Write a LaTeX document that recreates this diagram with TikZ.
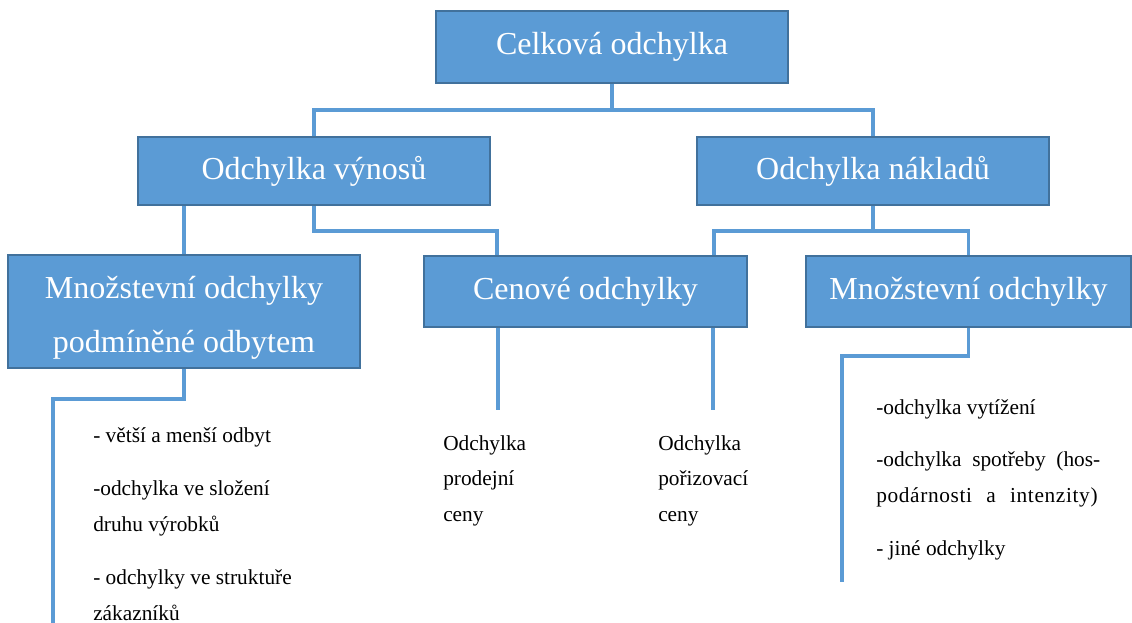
\documentclass[tikz,border=0pt]{standalone}
\usepackage{fontspec}
\setmainfont{Liberation Serif}
\usepackage{tikz}
\usetikzlibrary{positioning,calc}
\definecolor{boxblue}{RGB}{91,155,213}
\definecolor{boxedge}{RGB}{65,113,156}
\definecolor{lineblue}{RGB}{91,155,213}
\tikzset{
  devbox/.style={draw=boxedge, line width=1.4pt, fill=boxblue, text=white, font=\fontsize{24}{40.5}\selectfont, align=center, inner sep=0pt},
  link/.style={draw=lineblue, line width=2.8pt},
  itemtext/.style={font=\fontsize{16}{27}\selectfont, align=left, anchor=base west, inner sep=0pt}
}

\begin{document}
\begin{tikzpicture}[x=0.75pt,y=-0.75pt]
    \useasboundingbox (0,0) rectangle (1132,623);
    \node[devbox, minimum width=264pt, minimum height=54pt] (celk) at (612,47) {Celková odchylka};
    \node[devbox, minimum width=264pt, minimum height=51pt] (vyn) at (314,171) {Odchylka výnosů};
    \node[devbox, minimum width=264pt, minimum height=51pt] (nakl) at (873,171) {Odchylka nákladů};
    \node[devbox, minimum width=264pt, minimum height=84.75pt] (mn1) at (184,311.5) {\rule{0pt}{26pt}Množstevní odchylky\\podmíněné odbytem};
    \node[devbox, minimum width=242.25pt, minimum height=53.25pt] (cen) at (585.5,291.5) {Cenové odchylky};
    \node[devbox, minimum width=243.75pt, minimum height=53.25pt] (mn2) at (968.5,291.5) {Množstevní odchylky};

    \coordinate (cenL) at ($(cen.north west)+(74,0)$);
    \coordinate (cenR) at ($(cen.north east)+(-34,0)$);
    \coordinate (prodEnd) at (498,410);
    \coordinate (porEnd) at (713,410);
    \coordinate (lEnd) at (53,623);
    \coordinate (rEnd) at (842,582);

    \draw[link] (celk.south) -- ++(0,26) -| (vyn.north);
    \draw[link] (celk.south) -- ++(0,26) -| (nakl.north);
    \draw[link] (vyn.south -| mn1.north) -- (mn1.north);
    \draw[link] (vyn.south) -- ++(0,25) -| (cenL);
    \draw[link] (nakl.south) -- ++(0,25) -| (cenR);
    \draw[link] (nakl.south) -- ++(0,25) -| (mn2.north);
    \draw[link] (cen.south -| prodEnd) -- (prodEnd);
    \draw[link] (cen.south -| porEnd) -- (porEnd);
    \draw[link] (mn1.south) -- ++(0,30) -| (lEnd);
    \draw[link] (mn2.south) -- ++(0,28) -| (rEnd);

    \node[itemtext] (odbyt) at (93,443) {- větší a menší odbyt};
    \node[itemtext] (slozeni) at (93,532) {-odchylka ve složení\\druhu výrobků};
    \node[itemtext] (zakaz) at (93,620) {- odchylky ve struktuře\\zákazníků};
    \node[itemtext] (prod) at (443,522) {Odchylka\\prodejní\\ceny};
    \node[itemtext] (poriz) at (658,522) {Odchylka\\pořizovací\\ceny};
    \node[itemtext] (vytiz) at (876,415) {-odchylka vytížení};
    \node[itemtext] (spotr) at (876,503) {\makebox[168pt][s]{-odchylka spotřeby (hos-}\\\makebox[166pt][s]{\addfontfeatures{LetterSpace=3}podárnosti a intenzity)}};
    \node[itemtext] (jine) at (876,555) {- jiné odchylky};
\end{tikzpicture}
\end{document}
